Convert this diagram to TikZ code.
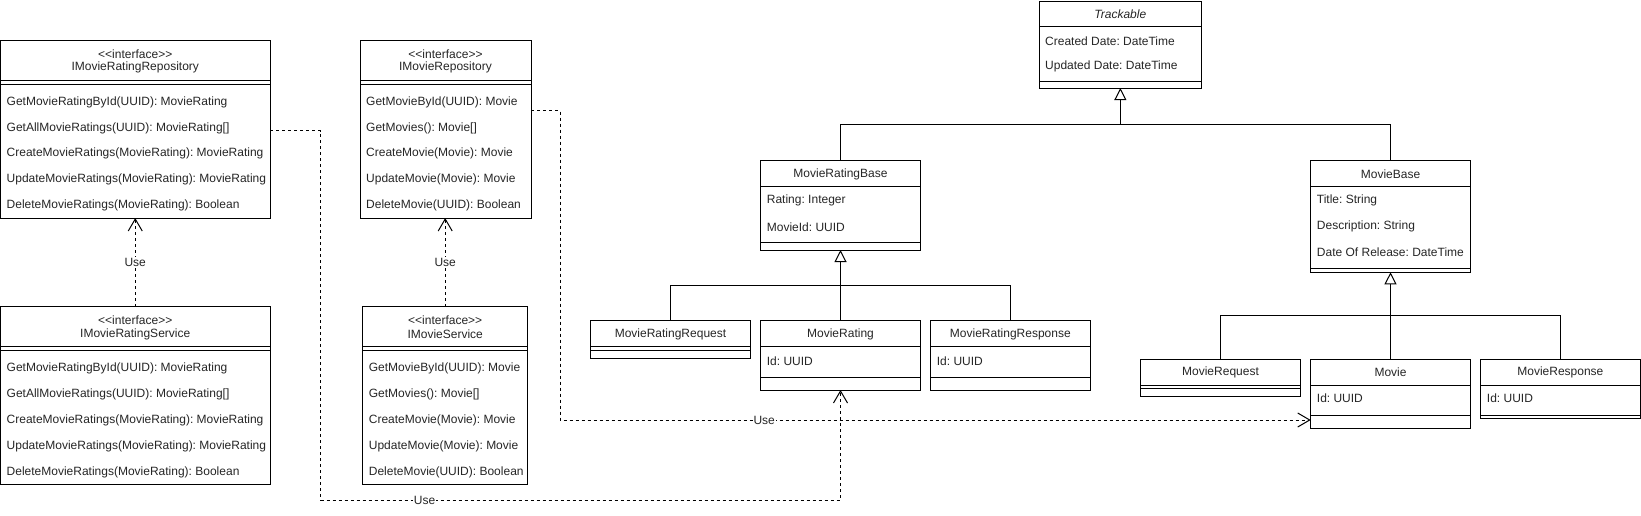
\documentclass[tikz,border=0pt]{standalone}
\usepackage{fontspec}
\setmainfont{Liberation Sans}[Ligatures=TeXOff]
\frenchspacing
\usetikzlibrary{arrows.meta,calc}
\tikzset{
  classbox/.style={draw, line width=1pt, rectangle, inner sep=0pt, outer sep=0pt, fill=white},
  txt/.style={font=\fontsize{12}{14}\selectfont, inner sep=0pt, text=black!85},
  lt/.style={txt, anchor=west, xshift=6pt, yshift=-0.8pt},
  sep/.style={line width=1pt},
  gen/.style={line width=1pt, -{Triangle[open,length=12pt,width=12pt,fill=white]}},
  genline/.style={line width=1pt},
  dep/.style={line width=1pt, dash pattern=on 3pt off 3pt, -{Straight Barb[length=12pt,width=14pt]}},
  uselabel/.style={txt, fill=white, inner sep=1pt},
}
\newcommand\umlbox[5]{\node[classbox, minimum width={(#4-#2)*1pt}, minimum height={(#5-#3)*1pt}] (#1) at ({(#2+#4)/2},{(#3+#5)/2}) {};}
\newcommand\hl[2]{\draw[sep] (#1.west |- 0,#2) -- (#1.east |- 0,#2);}
\newcommand\stereo{\textless\textless interface\textgreater\textgreater}
\begin{document}
\begin{tikzpicture}[x=1pt,y=-1pt]
\useasboundingbox (0,0) rectangle (1641,515);

% ---------- IMovieRatingRepository ----------
\umlbox{IMRR}{0.5}{40}{270}{218}
\hl{IMRR}{80.7}\hl{IMRR}{84}
\node[txt] (IMRRst) at (IMRR.center |- 0,54) {\stereo};
\node[txt] (IMRRn) at (IMRR.center |- 0,67.5) {IMovieRatingRepository};
\node[lt] (IMRR1) at (IMRR.west |- 0,102) {GetMovieRatingById(UUID): MovieRating};
\node[lt] (IMRR2) at (IMRR.west |- 0,127.5) {GetAllMovieRatings(UUID): MovieRating[]};
\node[lt] (IMRR3) at (IMRR.west |- 0,153) {CreateMovieRatings(MovieRating): MovieRating};
\node[lt] (IMRR4) at (IMRR.west |- 0,179) {UpdateMovieRatings(MovieRating): MovieRating};
\node[lt] (IMRR5) at (IMRR.west |- 0,205) {DeleteMovieRatings(MovieRating): Boolean};

% ---------- IMovieRepository ----------
\umlbox{IMR}{360}{40}{531}{218}
\hl{IMR}{80.7}\hl{IMR}{84}
\node[txt] (IMRst) at (IMR.center |- 0,54) {\stereo};
\node[txt] (IMRn) at (IMR.center |- 0,67.5) {IMovieRepository};
\node[lt] (IMR1) at (IMR.west |- 0,102) {GetMovieById(UUID): Movie};
\node[lt] (IMR2) at (IMR.west |- 0,127.5) {GetMovies(): Movie[]};
\node[lt] (IMR3) at (IMR.west |- 0,153) {CreateMovie(Movie): Movie};
\node[lt] (IMR4) at (IMR.west |- 0,179) {UpdateMovie(Movie): Movie};
\node[lt] (IMR5) at (IMR.west |- 0,205) {DeleteMovie(UUID): Boolean};

% ---------- IMovieRatingService ----------
\umlbox{IMRS}{0.5}{306.7}{270}{484}
\hl{IMRS}{346.7}\hl{IMRS}{350}
\node[txt] (IMRSst) at (IMRS.center |- 0,320.7) {\stereo};
\node[txt] (IMRSn) at (IMRS.center |- 0,334) {IMovieRatingService};
\node[lt] (IMRS1) at (IMRS.west |- 0,368) {GetMovieRatingById(UUID): MovieRating};
\node[lt] (IMRS2) at (IMRS.west |- 0,394) {GetAllMovieRatings(UUID): MovieRating[]};
\node[lt] (IMRS3) at (IMRS.west |- 0,419.5) {CreateMovieRatings(MovieRating): MovieRating};
\node[lt] (IMRS4) at (IMRS.west |- 0,445.5) {UpdateMovieRatings(MovieRating): MovieRating};
\node[lt] (IMRS5) at (IMRS.west |- 0,471.5) {DeleteMovieRatings(MovieRating): Boolean};

% ---------- IMovieService ----------
\umlbox{IMS}{362.7}{306.7}{527.7}{484}
\hl{IMS}{346.7}\hl{IMS}{350}
\node[txt] (IMSst) at (IMS.center |- 0,320.7) {\stereo};
\node[txt] (IMSn) at (IMS.center |- 0,334) {IMovieService};
\node[lt] (IMS1) at (IMS.west |- 0,368) {GetMovieById(UUID): Movie};
\node[lt] (IMS2) at (IMS.west |- 0,394) {GetMovies(): Movie[]};
\node[lt] (IMS3) at (IMS.west |- 0,419.5) {CreateMovie(Movie): Movie};
\node[lt] (IMS4) at (IMS.west |- 0,445.5) {UpdateMovie(Movie): Movie};
\node[lt] (IMS5) at (IMS.west |- 0,471.5) {DeleteMovie(UUID): Boolean};

% ---------- Trackable ----------
\umlbox{TR}{1039}{1}{1201.7}{88}
\hl{TR}{26}\hl{TR}{81.7}
\node[txt, font=\fontsize{12}{14}\selectfont\itshape] (TRn) at (TR.center |- 0,14) {Trackable};
\node[lt] (TR1) at (TR.west |- 0,40.7) {Created Date: DateTime};
\node[lt] (TR2) at (TR.west |- 0,65.7) {Updated Date: DateTime};

% ---------- MovieRatingBase ----------
\umlbox{MRB}{760.7}{160}{920.3}{250}
\hl{MRB}{186.7}\hl{MRB}{242.3}
\node[txt] (MRBn) at (MRB.center |- 0,174) {MovieRatingBase};
\node[lt] (MRB1) at (MRB.west |- 0,200) {Rating: Integer};
\node[lt] (MRB2) at (MRB.west |- 0,226) {MovieId: UUID};

% ---------- MovieBase ----------
\umlbox{MB}{1310.7}{160}{1470.3}{272.3}
\hl{MB}{186.7}\hl{MB}{268.3}
\node[txt] (MBn) at (MB.center |- 0,174) {MovieBase};
\node[lt] (MB1) at (MB.west |- 0,200) {Title: String};
\node[lt] (MB2) at (MB.west |- 0,226) {Description: String};
\node[lt] (MB3) at (MB.west |- 0,251.7) {Date Of Release: DateTime};

% ---------- MovieRating children ----------
\umlbox{MRQ}{590.7}{320.7}{750.3}{358.3}
\hl{MRQ}{346.7}\hl{MRQ}{350}
\node[txt] (MRQn) at (MRQ.center |- 0,334) {MovieRatingRequest};

\umlbox{MR}{760.7}{320.7}{920.3}{390}
\hl{MR}{346.7}\hl{MR}{377.7}
\node[txt] (MRn) at (MR.center |- 0,334) {MovieRating};
\node[lt] (MR1) at (MR.west |- 0,360) {Id: UUID};

\umlbox{MRP}{930.7}{320.7}{1090}{390}
\hl{MRP}{346.7}\hl{MRP}{377.7}
\node[txt] (MRPn) at (MRP.center |- 0,334) {MovieRatingResponse};
\node[lt] (MRP1) at (MRP.west |- 0,360) {Id: UUID};

% ---------- Movie children ----------
\umlbox{MQ}{1140.7}{359}{1300.3}{396.7}
\hl{MQ}{385}\hl{MQ}{388.3}
\node[txt] (MQn) at (MQ.center |- 0,372) {MovieRequest};

\umlbox{MV}{1310.7}{359}{1470.3}{428.3}
\hl{MV}{385}\hl{MV}{415}
\node[txt] (MVn) at (MV.center |- 0,372) {Movie};
\node[lt] (MV1) at (MV.west |- 0,397.7) {Id: UUID};

\umlbox{MP}{1480.7}{359}{1640}{418.3}
\hl{MP}{385}\hl{MP}{415}
\node[txt] (MPn) at (MP.center |- 0,372) {MovieResponse};
\node[lt] (MP1) at (MP.west |- 0,397.7) {Id: UUID};

% ---------- Generalizations ----------
\draw[genline] (MRB.north) -- (MRB.north |- 0,124.5) -- (MB.north |- 0,124.5) -- (MB.north);
\draw[gen] (TR.south |- 0,124.5) -- (TR.south);

\draw[genline] (MRQ.north) -- (MRQ.north |- 0,285) -- (MRP.north |- 0,285) -- (MRP.north);
\draw[gen] (MR.north) -- (MRB.south);

\draw[genline] (MQ.north) -- (MQ.north |- 0,315.7) -- (MP.north |- 0,315.7) -- (MP.north);
\draw[gen] (MV.north) -- (MB.south);

% ---------- Dependencies ----------
\draw[dep] (IMRS.north) -- node[uselabel] (use1) {Use} (IMRR.south);
\draw[dep] (IMS.north) -- node[uselabel] (use2) {Use} (IMS.north |- IMR.south);

\coordinate (c1) at (320.7,130.7);
\coordinate (c2) at (320.7,500);
\coordinate (c3) at (840.5,500);
\draw[dep] (IMRR.east |- c1) -- (c1) -- (c2) -- node[uselabel, pos=0.2] (use3) {Use} (c3) -- (MR.south);

\coordinate (d1) at (560,110.7);
\coordinate (d2) at (560,420);
\draw[dep] (IMR.east |- d1) -- (d1) -- (d2) -- node[uselabel, pos=0.272] (use4) {Use} (MV.west |- d2);
\end{tikzpicture}
\end{document}
